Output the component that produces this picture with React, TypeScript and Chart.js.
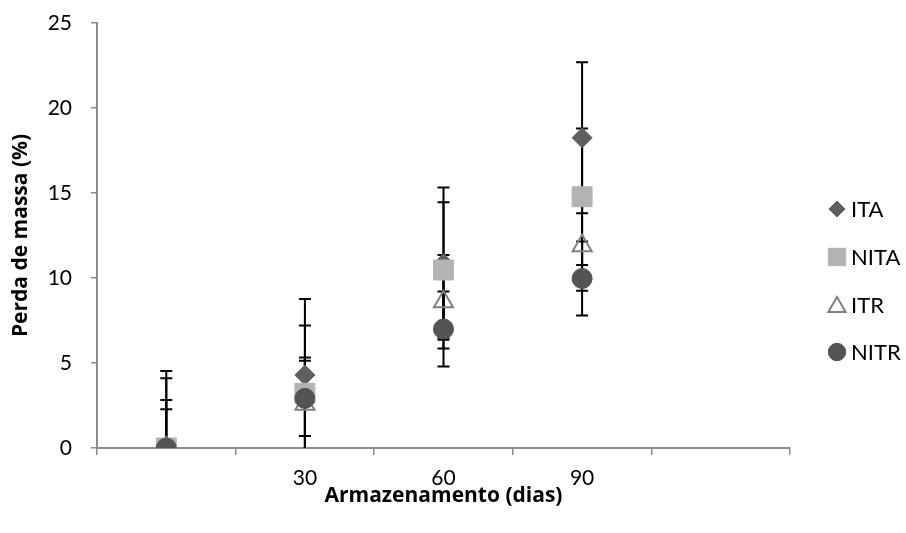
import React, { useEffect, useRef } from 'react';
import { Chart, registerables } from 'chart.js';
import { drawPoint } from 'chart.js/helpers';

Chart.register(...registerables);

const categories = ['', '30', '60', '90', ''];
const seriesNames = ['ITA', 'NITA', 'ITR', 'NITR'];
const itaValues = [0, 4.29, 10.85, 18.25];
const itaErrors = [4.53, 4.47, 4.48, 4.44];
const nitaValues = [0, 3.22, 10.47, 14.78];
const nitaErrors = [4.1, 3.98, 3.98, 4.02];
const itrValues = [0, 2.58, 8.6, 11.9];
const itrErrors = [2.82, 2.75, 2.75, 2.65];
const nitrValues = [0, 2.92, 7.0, 9.97];
const nitrErrors = [2.28, 2.21, 2.2, 2.18];
const yTicks = [0, 5, 10, 15, 20, 25];

const FONT = 'Lato, "Noto Sans", sans-serif';
const TITLE_FONT = '"Open Sans", "Noto Sans", sans-serif';

const styles = [
  { pointStyle: 'rectRot', radius: 10, bg: '#5f5f5f', border: '#5f5f5f', lw: 1, legendR: 8 },
  { pointStyle: 'rect', radius: 14.1, bg: '#b3b3b3', border: '#b3b3b3', lw: 1, legendR: 12.3 },
  { pointStyle: 'triangle', radius: 11, bg: 'rgba(255,255,255,0)', border: '#7f7f7f', lw: 2, legendR: 10 },
  { pointStyle: 'circle', radius: 10, bg: '#545454', border: '#545454', lw: 1, legendR: 8.7 },
];

const allValues = [itaValues, nitaValues, itrValues, nitrValues];
const allErrors = [itaErrors, nitaErrors, itrErrors, nitrErrors];

const errorBarPlugin = {
  id: 'errorBars',
  beforeDatasetsDraw(chart: any) {
    const ctx = chart.ctx;
    const area = chart.chartArea;
    const y = chart.scales.y;
    ctx.save();
    ctx.beginPath();
    ctx.rect(area.left, area.top - 5, area.right - area.left, area.bottom - area.top + 5);
    ctx.clip();
    ctx.strokeStyle = '#000';
    ctx.lineWidth = 2;
    chart.data.datasets.forEach((ds: any, i: number) => {
      const meta = chart.getDatasetMeta(i);
      const errs = allErrors[i];
      meta.data.forEach((pt: any, j: number) => {
        const v = ds.data[j];
        const e = errs[j];
        const x = pt.x;
        const yTop = y.getPixelForValue(v + e);
        const yBot = y.getPixelForValue(v - e);
        ctx.beginPath();
        ctx.moveTo(x, yTop);
        ctx.lineTo(x, yBot);
        ctx.moveTo(x - 6, yTop);
        ctx.lineTo(x + 6, yTop);
        ctx.moveTo(x - 6, yBot);
        ctx.lineTo(x + 6, yBot);
        ctx.stroke();
      });
    });
    ctx.restore();
  },
};

const legendPlugin = {
  id: 'customLegend',
  afterDraw(chart: any) {
    const ctx = chart.ctx;
    const x0 = chart.chartArea.right + 47;
    const yPos = [209, 257, 305, 352];
    ctx.save();
    seriesNames.forEach((name, i) => {
      const s = styles[i];
      ctx.fillStyle = s.bg;
      ctx.strokeStyle = s.border;
      ctx.lineWidth = s.lw;
      drawPoint(ctx, { pointStyle: s.pointStyle as any, radius: s.legendR, rotation: 0, borderWidth: s.lw }, x0, yPos[i] + (s.pointStyle === 'triangle' ? 2 : 0));
      ctx.fillStyle = '#000';
      ctx.font = `22px ${FONT}`;
      ctx.textBaseline = 'middle';
      ctx.textAlign = 'left';
      ctx.fillText(name, x0 + 14, yPos[i] + 1);
    });
    ctx.restore();
  },
};

export default function App() {
  const ref = useRef<HTMLCanvasElement>(null);
  useEffect(() => {
    document.body.style.margin = '0';
    const chart = new Chart(ref.current!, {
      type: 'line',
      data: {
        labels: categories,
        datasets: seriesNames.map((name, i) => ({
          label: name,
          data: allValues[i],
          showLine: false,
          pointStyle: styles[i].pointStyle as any,
          pointRadius: styles[i].radius,
          pointBackgroundColor: styles[i].bg,
          pointBorderColor: styles[i].border,
          pointBorderWidth: styles[i].lw,
          order: 4 - i,
        })),
      },
      options: {
        animation: false,
        responsive: false,
        maintainAspectRatio: false,
        layout: { padding: { top: 23, right: 116, left: 0, bottom: 0 } },
        plugins: { legend: { display: false }, tooltip: { enabled: false } },
        scales: {
          x: {
            type: 'category',
            offset: true,
            grid: { offset: true, drawOnChartArea: false, drawTicks: true, tickLength: 7, color: '#8c8c8c', lineWidth: 1.5 },
            border: { color: '#8c8c8c', width: 2 },
            ticks: { color: '#000', font: { family: FONT, size: 21 }, padding: 11, autoSkip: false, maxRotation: 0 },
            title: { display: true, text: 'Armazenamento (dias)', color: '#000', font: { family: TITLE_FONT, size: 21, weight: 'bold' }, padding: { top: 0, bottom: 24 } },
            afterFit(scale: any) { scale.height = 85; scale.paddingLeft = 0; scale.paddingRight = 0; },
          },
          y: {
            min: 0,
            max: 25,
            afterBuildTicks(scale: any) { scale.ticks = yTicks.map((v) => ({ value: v })); },
            grid: { drawOnChartArea: false, drawTicks: true, tickLength: 6, color: '#8c8c8c', lineWidth: 1.5 },
            border: { color: '#8c8c8c', width: 2 },
            ticks: { color: '#000', font: { family: FONT, size: 21 }, padding: 19 },
            title: { display: true, text: 'Perda de massa (%)', color: '#000', font: { family: TITLE_FONT, size: 21, weight: 'bold' }, padding: { top: 8, bottom: 0 } },
            afterFit(scale: any) { scale.width = 97; scale.paddingTop = 0; scale.paddingBottom = 0; },
          },
        },
      },
      plugins: [errorBarPlugin, legendPlugin],
    });
    return () => chart.destroy();
  }, []);
  return (
    <div style={{ width: 906, height: 533, background: '#fff' }}>
      <canvas ref={ref} width={906} height={533} style={{ width: 906, height: 533, display: 'block' }} />
    </div>
  );
}
